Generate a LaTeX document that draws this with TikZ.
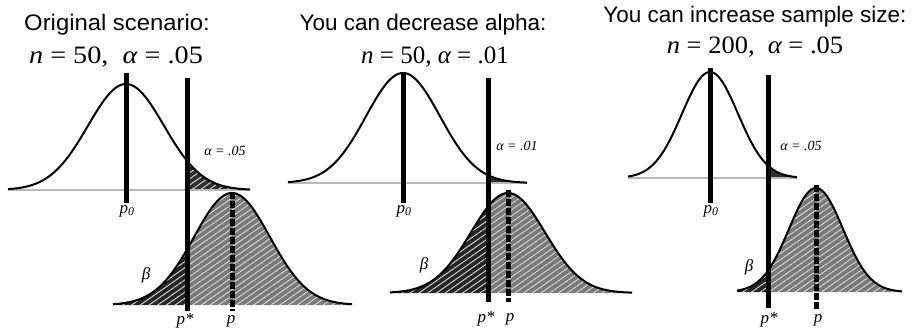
\documentclass[tikz,border=0pt]{standalone}
\usepackage{fontspec}
\usepackage{graphicx}
\setmainfont{Liberation Serif}
\setsansfont{Liberation Sans}
\usetikzlibrary{patterns.meta}
\tikzset{
  curve/.style={line width=2pt, black, line join=round},
  axisline/.style={line width=1.3pt, gray!55},
  refline/.style={line width=5pt, black},
  critline/.style={line width=5pt, black},
  altline/.style={line width=5pt, black, dash pattern=on 7pt off 2pt},
  titletext/.style={font=\sffamily\fontsize{22.5}{26}\selectfont, inner sep=0pt},
  stattext/.style={font=\fontsize{25}{29}\selectfont, inner sep=0pt},
  alphatext/.style={font=\itshape\fontsize{14}{16}\selectfont, inner sep=0pt},
  tagtext/.style={font=\itshape\fontsize{17}{19}\selectfont, inner sep=0pt},
  alphafill/.style={fill=black!82},
  betafill/.style={fill=black!85},
  powerfill/.style={fill=black!52},
  streaks/.style={pattern={Lines[angle=35, distance=5pt, line width=0.9pt]}, pattern color=white!70!gray},
}
\begin{document}
\begin{tikzpicture}[x=1pt,y=-1pt,
  declare function={bell(\xx,\mm,\ss,\bb,\hh)=\bb-\hh*exp(-0.5*((\xx-\mm)/\ss)^2);}]
\useasboundingbox (0,0) rectangle (914,330);
\fill[white] (0,0) rectangle (914,330);

% ================= Panel 1 =================
\node[titletext] (t1) at (117,25) {\scalebox{1.06}[1]{Original scenario:}};
\node[stattext] (s1) at (116,57) {\scalebox{1.13}[1]{{\itshape n} = 50,\ \ {\itshape α} = .05}};
% H0
\fill[alphafill] (187,190) -- plot[domain=187:250,samples=40] (\x,{bell(\x,126,38,190,106)}) -- (250,190) -- cycle;
\fill[streaks] (187,190) -- plot[domain=187:250,samples=40] (\x,{bell(\x,126,38,190,106)}) -- (250,190) -- cycle;
\draw[axisline] (8,190) -- (250,190);
\draw[curve] plot[domain=8:250,samples=120] (\x,{bell(\x,126,38,190,106)});
% H1
\fill[betafill] (113,305) -- plot[domain=113:187,samples=60] (\x,{bell(\x,232,38,305,112)}) -- (187,305) -- cycle;
\fill[powerfill] (187,305) -- plot[domain=187:352,samples=120] (\x,{bell(\x,232,38,305,112)}) -- (352,305) -- cycle;
\fill[streaks] (113,305) -- plot[domain=113:352,samples=150] (\x,{bell(\x,232,38,305,112)}) -- (352,305) -- cycle;
\draw[curve] plot[domain=113:352,samples=150] (\x,{bell(\x,232,38,305,112)});
% lines
\coordinate (p0top1) at (126,73);
\coordinate (p0bot1) at (126,203);
\coordinate (pstop1) at (187,78);
\coordinate (psbot1) at (187,311);
\coordinate (ptop1) at (232,192);
\coordinate (pbot1) at (232,311);
\draw[refline] (p0top1) -- (p0bot1);
\draw[critline] (pstop1) -- (psbot1);
\draw[altline] (ptop1) -- (pbot1);
\node[tagtext] (p0lab1) at (127,211) {p\textsubscript{0}};
\node[tagtext] (pslab1) at (185,321) {p*};
\node[tagtext] (plab1) at (231,321) {p};
\node[alphatext] (al1) at (225,151) {α = .05};
\node[tagtext] (be1) at (146,275) {β};

% ================= Panel 2 =================
\node[titletext] (t2) at (423,25) {You can decrease alpha:};
\node[stattext] (s2) at (435,57) {{\itshape n} = 50,\ {\itshape α} = .01};
% H0
\fill[alphafill] (488,183) -- plot[domain=488:527,samples=30] (\x,{bell(\x,403,37,183,110)}) -- (527,183) -- cycle;
\draw[axisline] (288,183) -- (527,183);
\draw[curve] plot[domain=288:527,samples=120] (\x,{bell(\x,403,37,183,110)});
% H1
\fill[betafill] (390,293) -- plot[domain=390:488,samples=60] (\x,{bell(\x,508,37,293,100)}) -- (488,293) -- cycle;
\fill[powerfill] (488,293) -- plot[domain=488:632,samples=100] (\x,{bell(\x,508,37,293,100)}) -- (632,293) -- cycle;
\fill[streaks] (390,293) -- plot[domain=390:632,samples=150] (\x,{bell(\x,508,37,293,100)}) -- (632,293) -- cycle;
\draw[curve] plot[domain=390:632,samples=150] (\x,{bell(\x,508,37,293,100)});
% lines
\coordinate (p0top2) at (403,72);
\coordinate (p0bot2) at (403,203);
\coordinate (pstop2) at (488,78);
\coordinate (psbot2) at (488,302);
\coordinate (ptop2) at (508,190);
\coordinate (pbot2) at (508,302);
\draw[refline] (p0top2) -- (p0bot2);
\draw[critline] (pstop2) -- (psbot2);
\draw[altline] (ptop2) -- (pbot2);
\node[tagtext] (p0lab2) at (404,211) {p\textsubscript{0}};
\node[tagtext] (pslab2) at (486,319) {p*};
\node[tagtext] (plab2) at (510,319) {p};
\node[alphatext] (al2) at (517,146) {α = .01};
\node[tagtext] (be2) at (424,265) {β};

% ================= Panel 3 =================
\node[titletext] (t3) at (755,17) {You can increase sample size:};
\node[stattext] (s3) at (755,47) {\scalebox{1.06}[1]{{\itshape n} = 200,\ \ {\itshape α} = .05}};
% H0
\fill[alphafill] (768,178) -- plot[domain=768:797,samples=30] (\x,{bell(\x,710,28,178,106)}) -- (797,178) -- cycle;
\draw[axisline] (628,178) -- (797,178);
\draw[curve] plot[domain=628:797,samples=120] (\x,{bell(\x,710,28,178,106)});
% H1
\fill[betafill] (737,292) -- plot[domain=737:768,samples=40] (\x,{bell(\x,816,27,292,104)}) -- (768,292) -- cycle;
\fill[powerfill] (768,292) -- plot[domain=768:902,samples=100] (\x,{bell(\x,816,27,292,104)}) -- (902,292) -- cycle;
\fill[streaks] (737,292) -- plot[domain=737:902,samples=150] (\x,{bell(\x,816,27,292,104)}) -- (902,292) -- cycle;
\draw[curve] plot[domain=737:902,samples=150] (\x,{bell(\x,816,27,292,104)});
% lines
\coordinate (p0top3) at (710,68);
\coordinate (p0bot3) at (710,203);
\coordinate (pstop3) at (768,75);
\coordinate (psbot3) at (768,308);
\coordinate (ptop3) at (816,185);
\coordinate (pbot3) at (816,310);
\draw[refline] (p0top3) -- (p0bot3);
\draw[critline] (pstop3) -- (psbot3);
\draw[altline] (ptop3) -- (pbot3);
\node[tagtext] (p0lab3) at (711,211) {p\textsubscript{0}};
\node[tagtext] (pslab3) at (769,320) {p*};
\node[tagtext] (plab3) at (818,320) {p};
\node[alphatext] (al3) at (801,146) {α = .05};
\node[tagtext] (be3) at (749,267) {β};
\end{tikzpicture}
\end{document}
